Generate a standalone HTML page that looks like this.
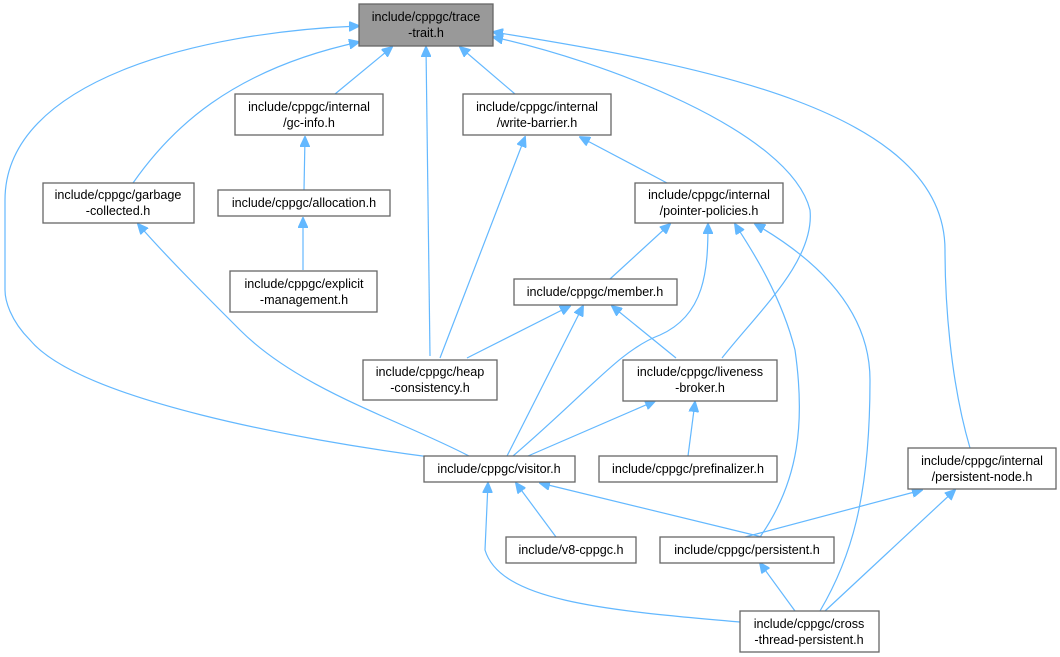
<!DOCTYPE html>
<html><head><meta charset="utf-8"><style>
html,body{margin:0;padding:0;background:#fff;}
svg{display:block;}
text{font-family:"Liberation Sans",Arial,sans-serif;font-size:12.6px;fill:#000;text-anchor:middle;}
rect{fill:#fff;stroke:#666;stroke-width:1.3;}
path{fill:none;stroke:#63b8ff;stroke-width:1.2;}
</style></head><body>
<svg width="1060" height="657" viewBox="0 0 1060 657" xmlns="http://www.w3.org/2000/svg">
<defs>
<marker id="a" markerWidth="11" markerHeight="10" refX="10" refY="5" orient="auto" markerUnits="userSpaceOnUse">
<path d="M0,0 L11,5 L0,10 Z" style="fill:#63b8ff;stroke:#63b8ff;stroke-width:1"/>
</marker>
</defs>
<g marker-end="url(#a)">
<path d="M335,94 L392,47"/>
<path d="M515,94 L460,47"/>
<path d="M430,356 L426,47"/>
<path d="M133,183 C170,130 230,70 359,42"/>
<path d="M430,457 C300,440 80,400 30,340 C10,320 5,300 5,290 L5,200 C5,80 200,32 359,26"/>
<path d="M722,358 C760,310 815,260 810,210 C790,130 600,60 493,37"/>
<path d="M970,448 C950,380 945,300 945,250 C945,110 700,65 493,32"/>
<path d="M304,190 L305,137"/>
<path d="M303,270 L303,218"/>
<path d="M469,456 C400,420 300,390 240,330 C200,290 165,255 138,224"/>
<path d="M440,358 L525,137"/>
<path d="M667,183 L580,137"/>
<path d="M610,279 L670,224"/>
<path d="M513,456 C590,390 620,350 660,335 C705,315 708,270 708,224"/>
<path d="M760,537 C800,480 805,420 795,350 C780,290 745,240 735,224"/>
<path d="M820,611 C850,560 870,500 870,380 C870,300 800,250 755,224"/>
<path d="M467,358 L570,306"/>
<path d="M507,456 L583,306"/>
<path d="M676,358 L612,306"/>
<path d="M528,456 L655,401"/>
<path d="M688,456 L695,402"/>
<path d="M556,537 L516,483"/>
<path d="M762,537 L540,483"/>
<path d="M740,622 C600,610 500,600 485,550 L488,483"/>
<path d="M745,537 L922,490"/>
<path d="M825,611 L955,490"/>
<path d="M795,611 L760,563"/>
</g>
<rect x="359" y="4" width="134" height="42" style="fill:#999"/>
<text x="426" y="21">include/cppgc/trace</text><text x="426" y="37">-trait.h</text>
<rect x="235" y="94" width="148" height="41"/>
<text x="309" y="111">include/cppgc/internal</text><text x="309" y="127">/gc-info.h</text>
<rect x="463" y="94" width="148" height="41"/>
<text x="537" y="111">include/cppgc/internal</text><text x="537" y="127">/write-barrier.h</text>
<rect x="43" y="183" width="151" height="40"/>
<text x="118" y="199">include/cppgc/garbage</text><text x="118" y="215">-collected.h</text>
<rect x="218" y="190" width="172" height="26"/>
<text x="304" y="207">include/cppgc/allocation.h</text>
<rect x="635" y="183" width="148" height="40"/>
<text x="709" y="199">include/cppgc/internal</text><text x="709" y="215">/pointer-policies.h</text>
<rect x="230" y="271" width="147" height="41"/>
<text x="304" y="288">include/cppgc/explicit</text><text x="304" y="304">-management.h</text>
<rect x="514" y="279" width="163" height="26"/>
<text x="595" y="296">include/cppgc/member.h</text>
<rect x="363" y="360" width="134" height="40"/>
<text x="430" y="376">include/cppgc/heap</text><text x="430" y="392">-consistency.h</text>
<rect x="623" y="360" width="154" height="41"/>
<text x="700" y="376">include/cppgc/liveness</text><text x="700" y="392">-broker.h</text>
<rect x="424" y="456" width="151" height="26"/>
<text x="499" y="473">include/cppgc/visitor.h</text>
<rect x="599" y="456" width="178" height="26"/>
<text x="688" y="473">include/cppgc/prefinalizer.h</text>
<rect x="908" y="448" width="148" height="41"/>
<text x="982" y="465">include/cppgc/internal</text><text x="982" y="481">/persistent-node.h</text>
<rect x="506" y="537" width="130" height="26"/>
<text x="571" y="554">include/v8-cppgc.h</text>
<rect x="660" y="537" width="174" height="26"/>
<text x="747" y="554">include/cppgc/persistent.h</text>
<rect x="740" y="611" width="139" height="41"/>
<text x="809" y="628">include/cppgc/cross</text><text x="809" y="644">-thread-persistent.h</text>
</svg>
</body></html>
